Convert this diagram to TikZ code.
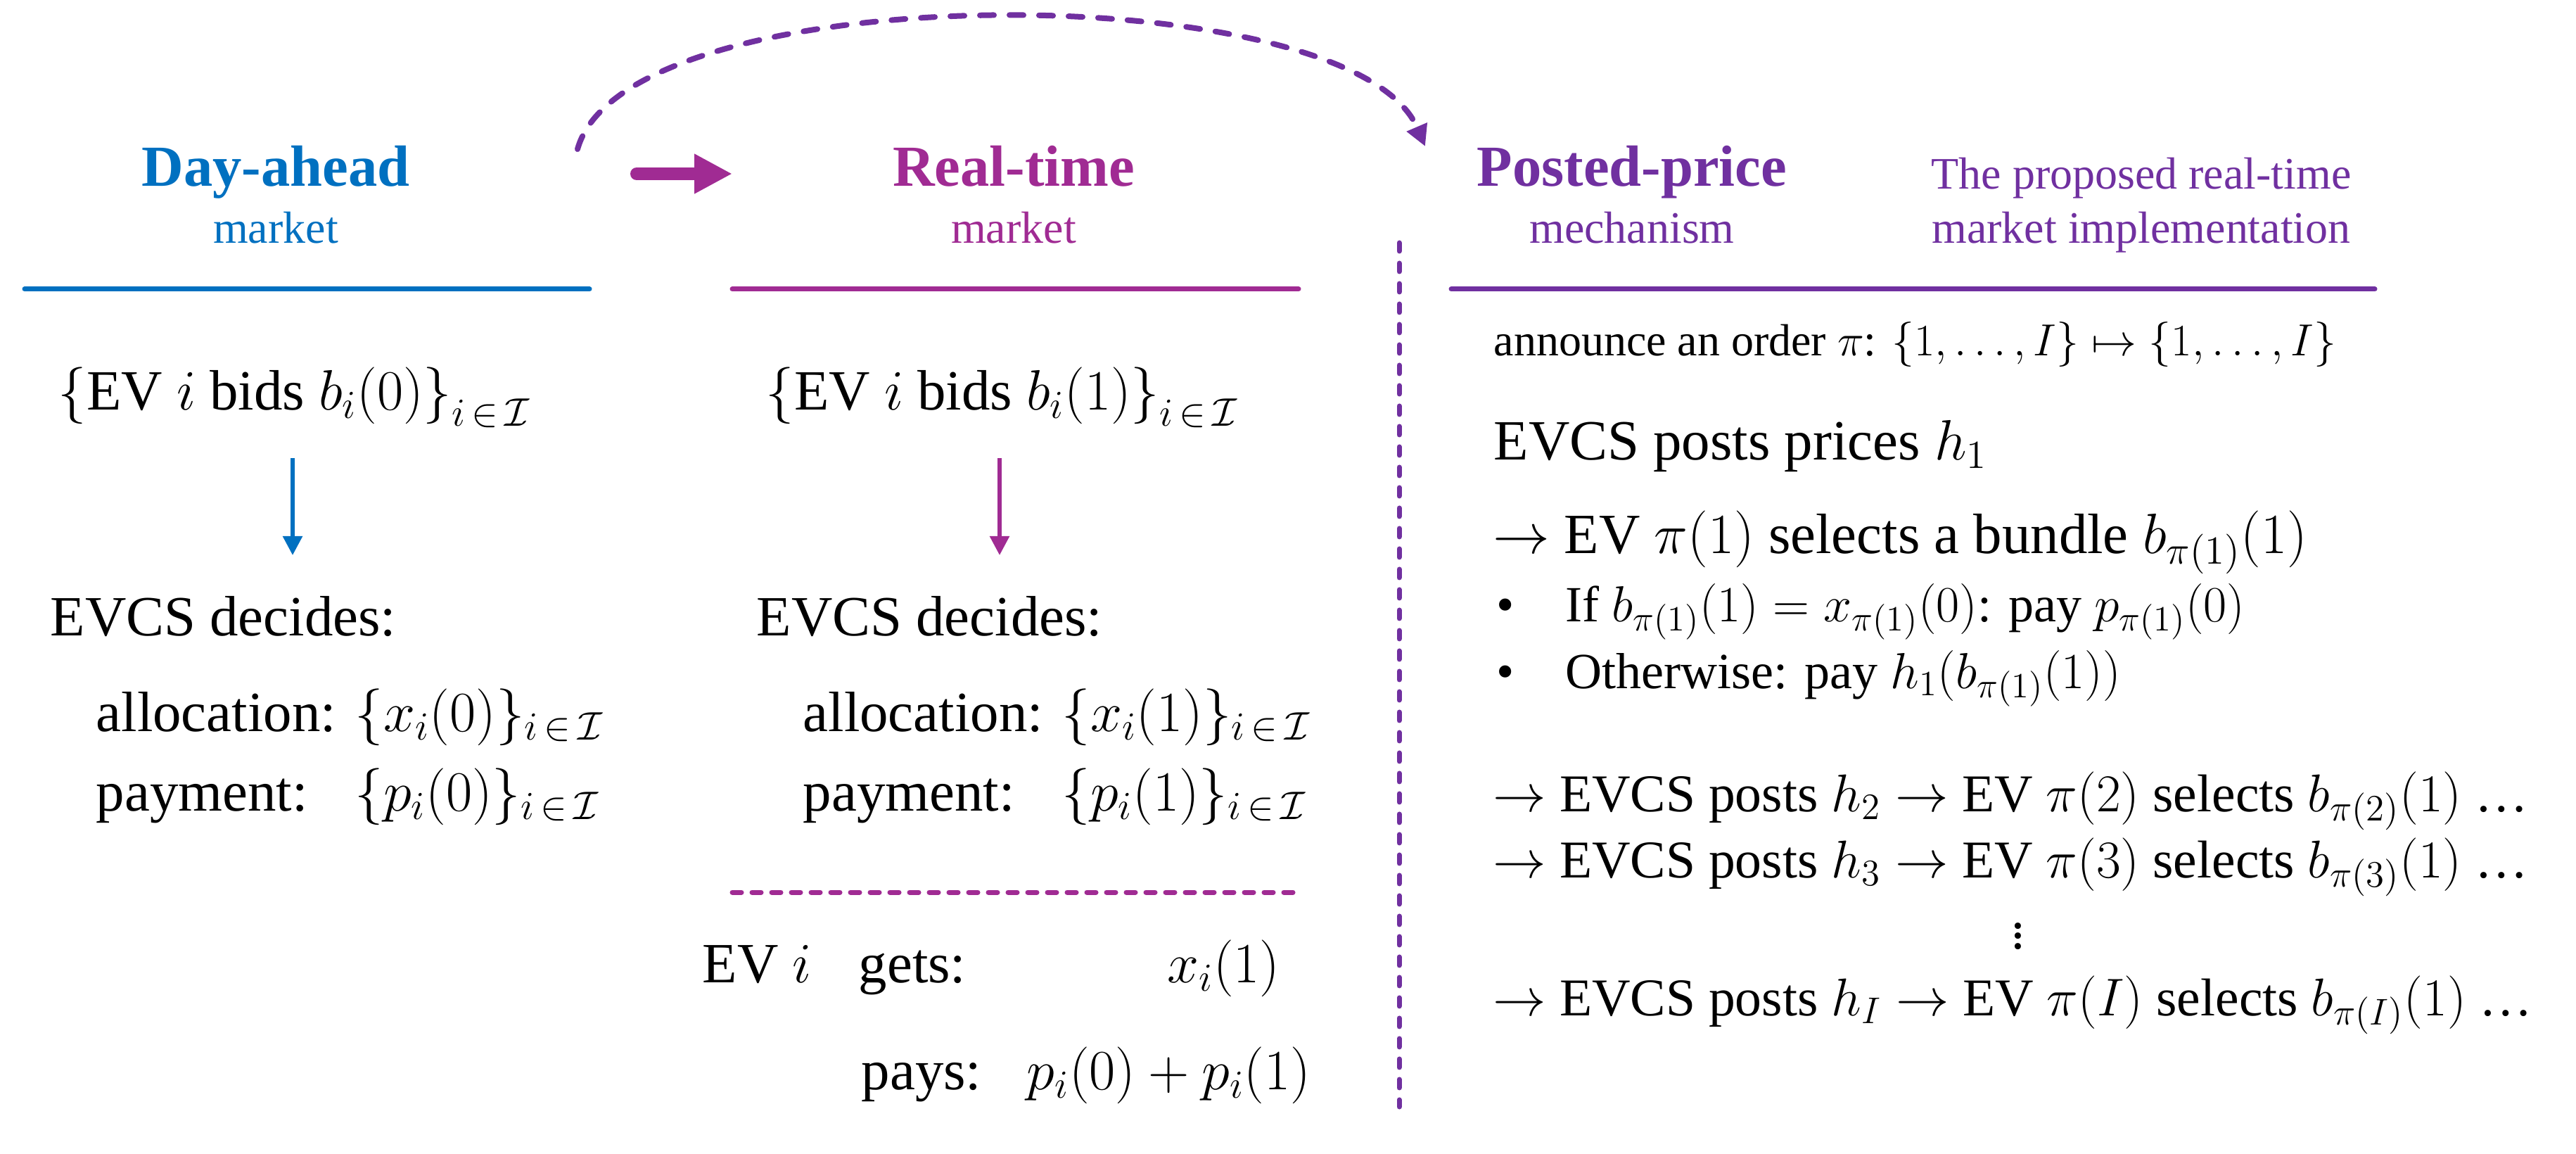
\RequirePackage{fix-cm}
\documentclass[tikz,border=0pt]{standalone}
\usepackage{fontspec}
\setmainfont{Liberation Serif}
\usepackage{calc}
\usetikzlibrary{arrows.meta}
\definecolor{mktblue}{RGB}{0, 112, 192}
\definecolor{mktmagenta}{RGB}{160, 43, 147}
\definecolor{mktpurple}{RGB}{112, 48, 160}
\newcommand{\setI}{_{i\,\in\,\mathcal{I}}}
\newcommand{\paylbl}{\makebox[\widthof{allocation: }][l]{payment:}}

\begin{document}
\begin{tikzpicture}[>=Stealth,
  ttl/.style={font=\fontsize{23.5}{28}\selectfont\bfseries, inner sep=0pt, anchor=base},
  subttl/.style={font=\fontsize{18.2}{22}\selectfont, inner sep=0pt, anchor=base},
  txtbody/.style={font=\fontsize{23}{28}\selectfont, inner sep=0pt, anchor=base west},
  txtsmall/.style={font=\fontsize{18.2}{22}\selectfont, inner sep=0pt, anchor=base west},
  txtitem/.style={font=\fontsize{20.5}{24}\selectfont, inner sep=0pt, anchor=base west},
  txtchain/.style={font=\fontsize{21.5}{26}\selectfont, inner sep=0pt, anchor=base west},
  rule/.style={line width=0.07cm, line cap=round},
  dashrule/.style={line width=0.07cm, line cap=round, dash pattern=on 0.13cm off 0.15cm},
  dnarrow/.style={line width=0.055cm, -{Triangle[length=0.27cm, width=0.27cm]}},
]
\useasboundingbox (0,0) rectangle (36.62,-16.40);

% ============================================================
% DAY-AHEAD (izquierda) -- mktblue
% ============================================================
\node[ttl, text=mktblue] (dah) at (3.92,-2.65) {Day-ahead};
\node[subttl, text=mktblue] (dahm) at (3.92,-3.46) {market};
\draw[rule, mktblue] (0.35,-4.11) -- (8.38,-4.11);

\node[txtbody] (bid0) at (0.82,-5.82) {$\big\{$EV $i$ bids $b_i(0)\big\}\setI$};
\coordinate (a0s) at (4.16,-6.51);
\coordinate (a0e) at (4.16,-7.89);
\draw[dnarrow, mktblue] (a0s) -- (a0e);

\node[txtbody] (dec0) at (0.71,-9.03) {EVCS decides:};
\node[txtbody] (alloc0) at (1.36,-10.39) {allocation: $\{x_i(0)\}\setI$};
\node[txtbody] (pay0) at (1.36,-11.52) {\paylbl$\{p_i(0)\}\setI$};

% ============================================================
% REAL-TIME (centro) -- mktmagenta
% ============================================================
\node[ttl, text=mktmagenta] (rt) at (14.41,-2.65) {Real-time};
\node[subttl, text=mktmagenta] (rtm) at (14.41,-3.46) {market};
\draw[rule, mktmagenta] (10.41,-4.11) -- (18.46,-4.11);

% Flecha gruesa entre mercados
\coordinate (bigs) at (9.05,-2.47);
\coordinate (bige) at (10.41,-2.47);
\draw[line width=0.18cm, line cap=round, mktmagenta,
      -{Triangle[length=0.54cm, width=0.53cm]}] (bigs) -- (bige);

\node[txtbody] (bid1) at (10.88,-5.82) {$\big\{$EV $i$ bids $b_i(1)\big\}\setI$};
\coordinate (a1s) at (14.21,-6.51);
\coordinate (a1e) at (14.21,-7.89);
\draw[dnarrow, mktmagenta] (a1s) -- (a1e);

\node[txtbody] (dec1) at (10.75,-9.03) {EVCS decides:};
\node[txtbody] (alloc1) at (11.41,-10.39) {allocation: $\{x_i(1)\}\setI$};
\node[txtbody] (pay1) at (11.41,-11.52) {\paylbl$\{p_i(1)\}\setI$};

\draw[dashrule, mktmagenta] (10.41,-12.68) -- (18.42,-12.68);

\node[txtbody] (evi) at (9.98,-13.96) {EV $i$};
\node[txtbody] (gets) at (12.20,-13.96) {gets:};
\node[txtbody] (getv) at (16.59,-13.96) {$x_i(1)$};
\node[txtbody] (pays) at (12.24,-15.48) {pays:};
\node[txtbody] (payv) at (14.59,-15.48) {$p_i(0) + p_i(1)$};

% Separador vertical
\draw[dashrule, mktpurple, dash pattern=on 0.12cm off 0.17cm] (19.89,-3.45) -- (19.89,-15.73);

% ============================================================
% POSTED-PRICE (derecha) -- mktpurple
% ============================================================
\node[ttl, text=mktpurple] (pp) at (23.20,-2.65) {Posted-price};
\node[subttl, text=mktpurple] (ppm) at (23.20,-3.46) {mechanism};
\node[subttl, text=mktpurple] (prop1) at (30.44,-2.69) {The proposed real-time};
\node[subttl, text=mktpurple] (prop2) at (30.44,-3.46) {market implementation};
\draw[rule, mktpurple] (20.63,-4.11) -- (33.76,-4.11);

% Arco discontinuo: del día previo al mecanismo
\coordinate (arcs) at (8.21,-2.12);
\coordinate (arce) at (20.26,-2.08);
\draw[mktpurple, line width=0.08cm, line cap=round, dash pattern=on 0.2cm off 0.22cm,
      -{Triangle[length=0.3cm, width=0.3cm]}]
    (arcs) .. controls (8.90,0.37) and (19.21,0.37) .. (arce);

\node[txtsmall] (ann) at (21.23,-5.06) {announce an order $\pi$: $\{1, \ldots, I\} \mapsto \{1, \ldots, I\}$};
\node[txtbody] (post1) at (21.23,-6.53) {EVCS posts prices $h_1$};
\node[txtbody] (sel1) at (21.22,-7.87) {$\rightarrow$ EV $\pi(1)$ selects a bundle $b_{\pi(1)}(1)$};
\node[txtitem] (if1) at (21.27,-8.83)
    {\makebox[0.98cm][l]{\textbullet}If $b_{\pi(1)}(1) = x_{\pi(1)}(0)$: pay $p_{\pi(1)}(0)$};
\node[txtitem] (oth1) at (21.27,-9.78)
    {\makebox[0.98cm][l]{\textbullet}Otherwise: pay $h_1(b_{\pi(1)}(1))$};

\node[txtchain] (step2) at (21.22,-11.53) {$\rightarrow$ EVCS posts $h_2 \rightarrow$ EV $\pi(2)$ selects $b_{\pi(2)}(1)$ \ldots};
\node[txtchain] (step3) at (21.22,-12.47) {$\rightarrow$ EVCS posts $h_3 \rightarrow$ EV $\pi(3)$ selects $b_{\pi(3)}(1)$ \ldots};
\node[font=\fontsize{21.5}{26}\selectfont, inner sep=0pt] (vd) at (28.69,-13.20) {$\vdots$};
\node[txtchain] (stepI) at (21.22,-14.43) {$\rightarrow$ EVCS posts $h_I \rightarrow$ EV $\pi(I)$ selects $b_{\pi(I)}(1)$ \ldots};

\end{tikzpicture}
\end{document}
